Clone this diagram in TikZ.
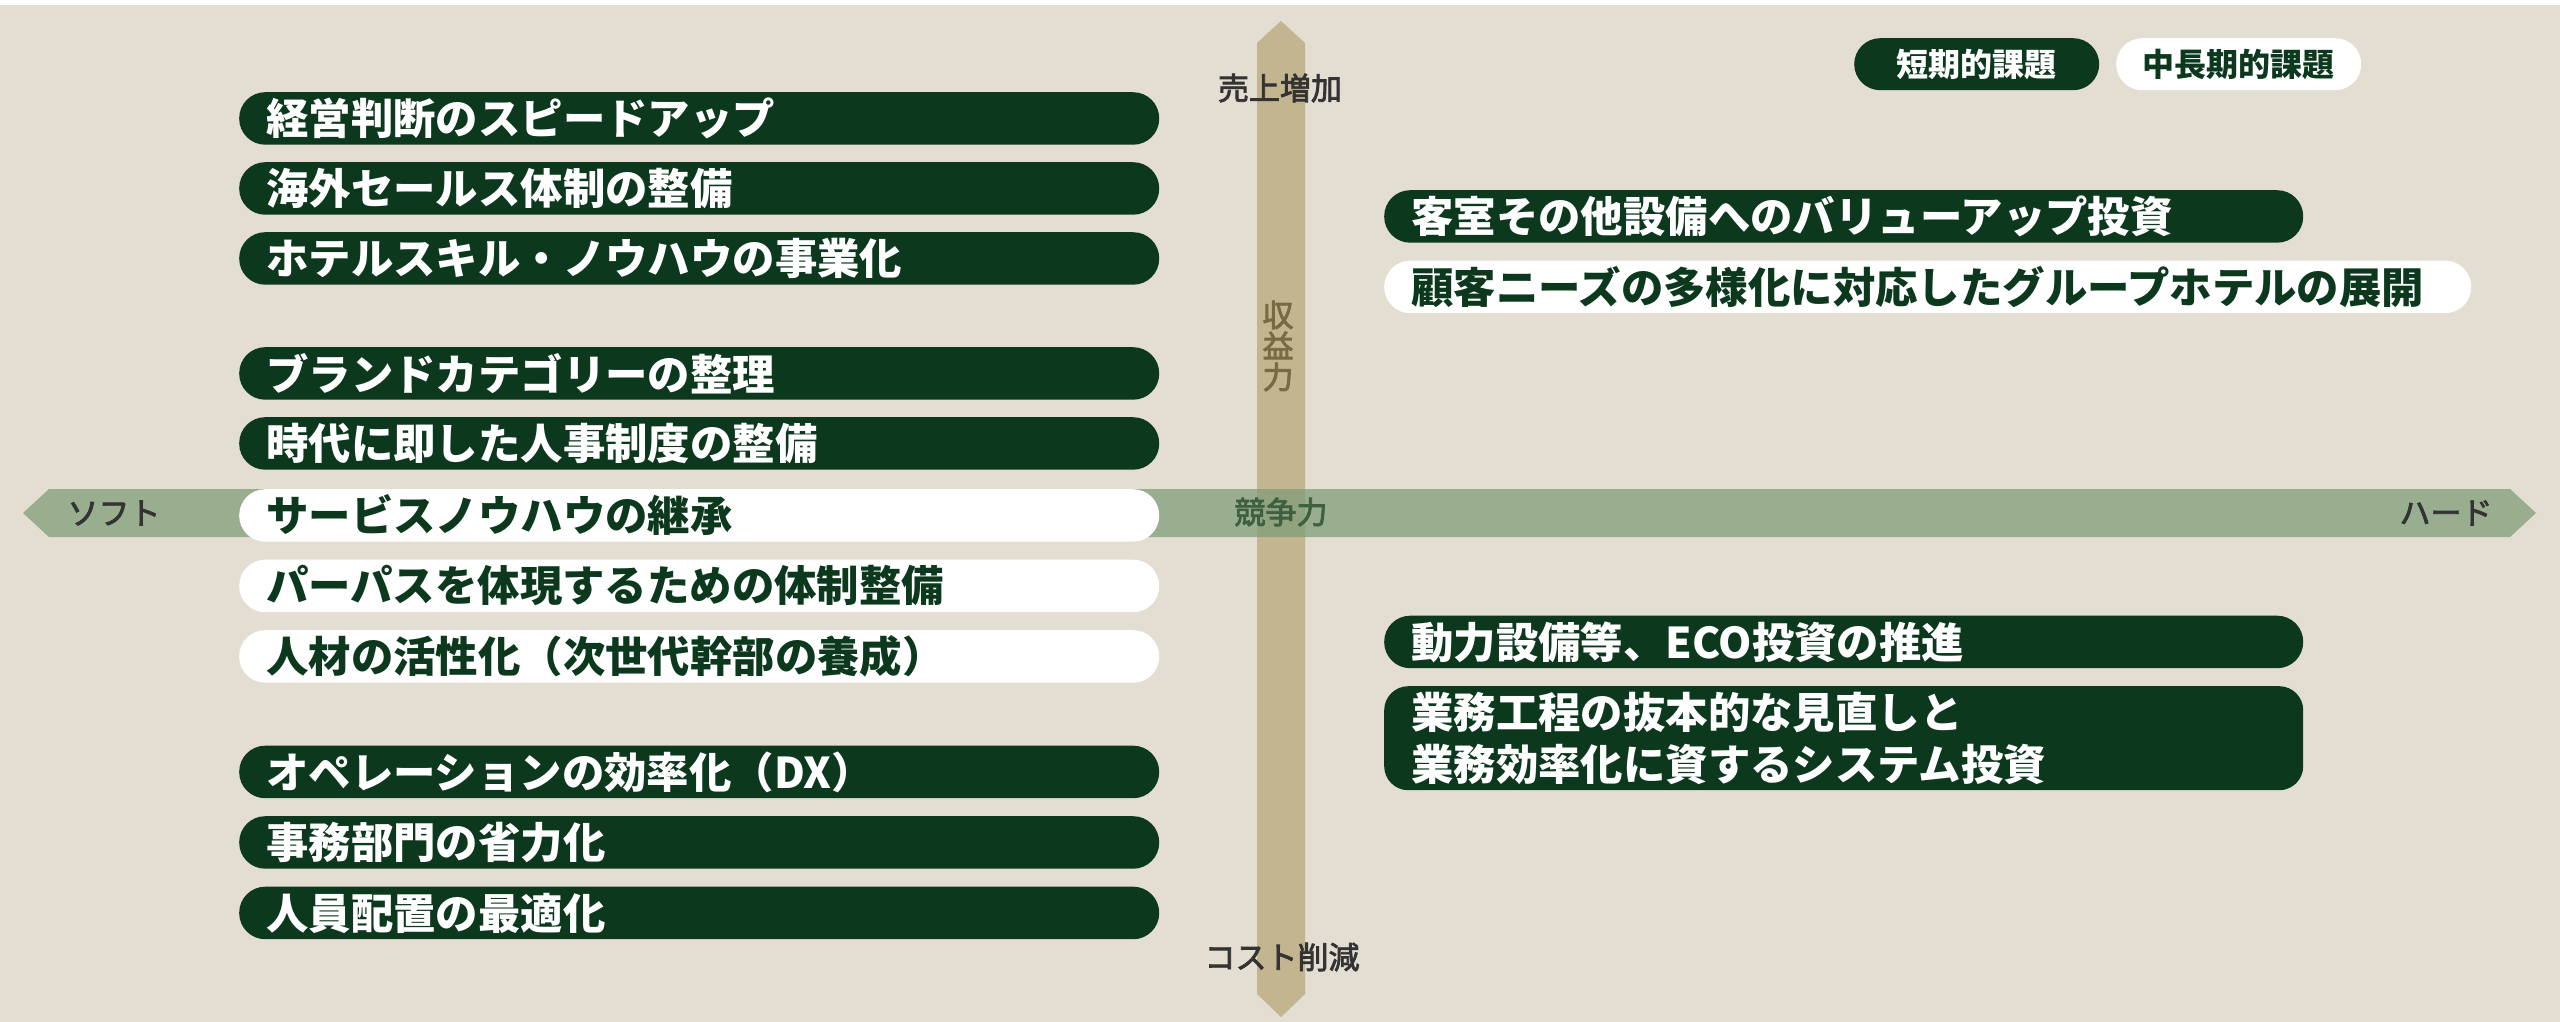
\documentclass[tikz,border=0pt]{standalone}
\usepackage{fontspec}
\setmainfont{Noto Sans CJK JP}
\newfontfamily\medfont{Noto Sans CJK JP}[FakeBold=2.5]
\definecolor{bgc}{RGB}{227,221,210}
\definecolor{dkg}{RGB}{12,56,30}
\definecolor{hgreen}{RGB}{129,158,121}
\definecolor{vtan}{RGB}{195,181,144}
\definecolor{axtxt}{RGB}{51,51,51}
\definecolor{comptxt}{RGB}{62,96,64}
\definecolor{proftxt}{RGB}{120,107,66}
\tikzset{
  pill/.style={rectangle, rounded corners=26pt, inner xsep=27pt, inner ysep=0pt,
    minimum height=52.5pt, align=left, anchor=north west,
    font=\fontsize{42.4}{52}\selectfont\bfseries},
  darkpill/.style={pill, fill=dkg, text=white},
  lightpill/.style={pill, fill=white, text=dkg},
  axlabel/.style={inner sep=0pt, text=axtxt, font=\fontsize{31}{31}\selectfont\medfont},
  legend/.style={rectangle, rounded corners=26pt, inner sep=0pt, minimum width=245pt,
    minimum height=52pt, anchor=north west, font=\fontsize{32}{32}\selectfont\bfseries}
}
\begin{document}
\begin{tikzpicture}[x=1pt,y=-1pt]
\fill[bgc] (0,0) rectangle (2560,1022);
\useasboundingbox (0,0) rectangle (2560,1022);
\fill[white] (0,0) rectangle (2560,5);
% vertical axis
\fill[vtan] (1281,21) -- (1305,43) -- (1305,994) -- (1281,1017) -- (1257,994) -- (1257,43) -- cycle;
% horizontal axis
\fill[hgreen, fill opacity=0.75] (23,513) -- (49,489) -- (2510,489) -- (2536,513) -- (2510,537) -- (49,537) -- cycle;
% axis labels
\node[axlabel] (up) at (1280,88) {売上増加};
\node[axlabel] (down) at (1282,957) {コスト削減};
\node[axlabel] (soft) at (114,513) {ソフト};
\node[axlabel] (hard) at (2446,513) {ハード};
\node[axlabel, text=comptxt] (comp) at (1281,512) {競争力};
\node[axlabel, text=proftxt, align=center] (prof) at (1278,346) {収\\益\\力};
% legend
\node[legend, fill=dkg, text=white] (lg1) at (1854,38) {短期的課題};
\node[legend, fill=white, text=dkg] (lg2) at (2116,38) {中長期的課題};
% left boxes
\node[darkpill, text width=866pt] (l1) at (239,92) {経営判断のスピードアップ};
\node[darkpill, text width=866pt] (l2) at (239,162) {海外セールス体制の整備};
\node[darkpill, text width=866pt] (l3) at (239,232) {ホテルスキル・ノウハウの事業化};
\node[darkpill, text width=866pt] (l4) at (239,347) {ブランドカテゴリーの整理};
\node[darkpill, text width=866pt] (l5) at (239,417) {時代に即した人事制度の整備};
\node[lightpill, text width=866pt] (l6) at (239,489) {サービスノウハウの継承};
\node[lightpill, text width=866pt] (l7) at (239,559.5) {パーパスを体現するための体制整備};
\node[lightpill, text width=866pt] (l8) at (239,630) {人材の活性化（次世代幹部の養成）};
\node[darkpill, text width=866pt] (l9) at (239,745.5) {オペレーションの効率化（DX）};
\node[darkpill, text width=866pt] (l10) at (239,816) {事務部門の省力化};
\node[darkpill, text width=866pt] (l11) at (239,886.5) {人員配置の最適化};
% right boxes
\node[darkpill, text width=865pt] (r1) at (1384,190) {客室その他設備へのバリューアップ投資};
\node[lightpill, text width=1033pt] (r2) at (1384,260.5) {顧客ニーズの多様化に対応したグループホテルの展開};
\node[darkpill, text width=865pt] (r3) at (1384,615.5) {動力設備等、ECO投資の推進};
\node[darkpill, text width=865pt, minimum height=104pt, rounded corners=24pt] (r4) at (1384,686) {業務工程の抜本的な見直しと\\業務効率化に資するシステム投資};
\end{tikzpicture}
\end{document}
